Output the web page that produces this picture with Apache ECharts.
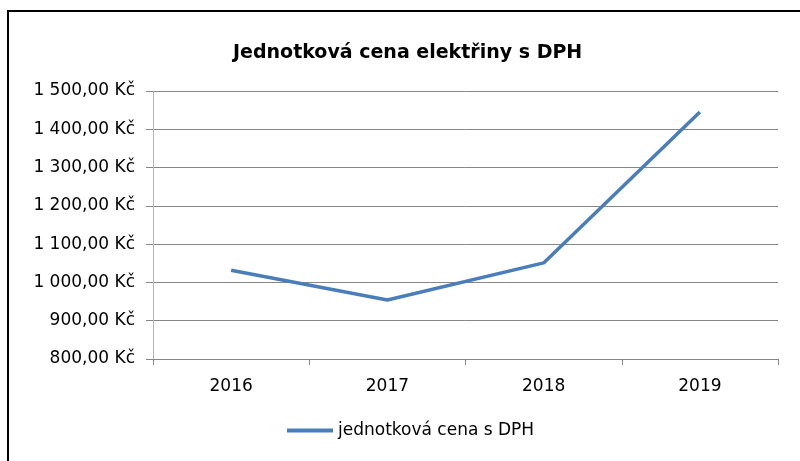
<!DOCTYPE html>
<html>
<head>
<meta charset="utf-8">
<script src="https://cdn.jsdelivr.net/npm/echarts@6/dist/echarts.min.js"></script>
<style>
  html, body { margin: 0; padding: 0; background: #fff; }
  #chart { width: 800px; height: 461px; }
</style>
</head>
<body>
<div id="chart"></div>
<script>
var years = ['2016', '2017', '2018', '2019'];
var prices = [1032, 954, 1051, 1445];
var seriesName = 'jednotková cena s DPH';

function kc(v) {
    // 1 500,00 Kč
    var s = v.toFixed(2).replace('.', ',');
    var parts = s.split(',');
    parts[0] = parts[0].replace(/\B(?=(\d{3})+(?!\d))/g, ' ');
    return parts.join(',') + ' Kč';
}

var myChart = echarts.init(document.getElementById('chart'));
var font = '"DejaVu Sans", sans-serif';

var option = {
    animation: false,
    textStyle: { fontFamily: font },
    title: {
        text: 'Jednotková cena elektřiny s DPH',
        left: 228,
        top: 39,
        textStyle: { fontSize: 19, fontWeight: 'bold', color: '#000', fontFamily: font }
    },
    graphic: [{
        type: 'rect',
        shape: { x: 8, y: 11, width: 900, height: 600 },
        style: { fill: 'none', stroke: '#000', lineWidth: 2 },
        silent: true
    }],
    grid: { left: 153, right: 22, top: 91, bottom: 102 },
    legend: {
        bottom: 17,
        left: 282,
        itemWidth: 46,
        itemHeight: 4,
        itemGap: 2,
        icon: 'rect',
        textStyle: { fontSize: 17, color: '#000', fontFamily: font },
        data: [seriesName]
    },
    xAxis: {
        type: 'category',
        data: years,
        boundaryGap: true,
        axisLine: { lineStyle: { color: '#868686', width: 1 } },
        axisTick: { show: true, length: 6, lineStyle: { color: '#868686' } },
        axisLabel: { fontSize: 17, color: '#000', margin: 19, fontFamily: font }
    },
    yAxis: {
        type: 'value',
        min: 800,
        max: 1500,
        interval: 100,
        axisLine: { show: true, lineStyle: { color: '#b4b4b4', width: 1 } },
        axisTick: { show: true, length: 7, lineStyle: { color: '#868686' } },
        splitLine: { show: true, lineStyle: { color: '#868686', width: 1 } },
        axisLabel: {
            fontSize: 17, color: '#000', margin: 18, fontFamily: font,
            formatter: function (v) { return kc(v); }
        }
    },
    series: [{
        name: seriesName,
        type: 'line',
        data: prices,
        symbol: 'none',
        lineStyle: { color: '#4a7ebb', width: 3.5 },
        itemStyle: { color: '#4a7ebb' }
    }]
};
myChart.setOption(option);
</script>
</body>
</html>
